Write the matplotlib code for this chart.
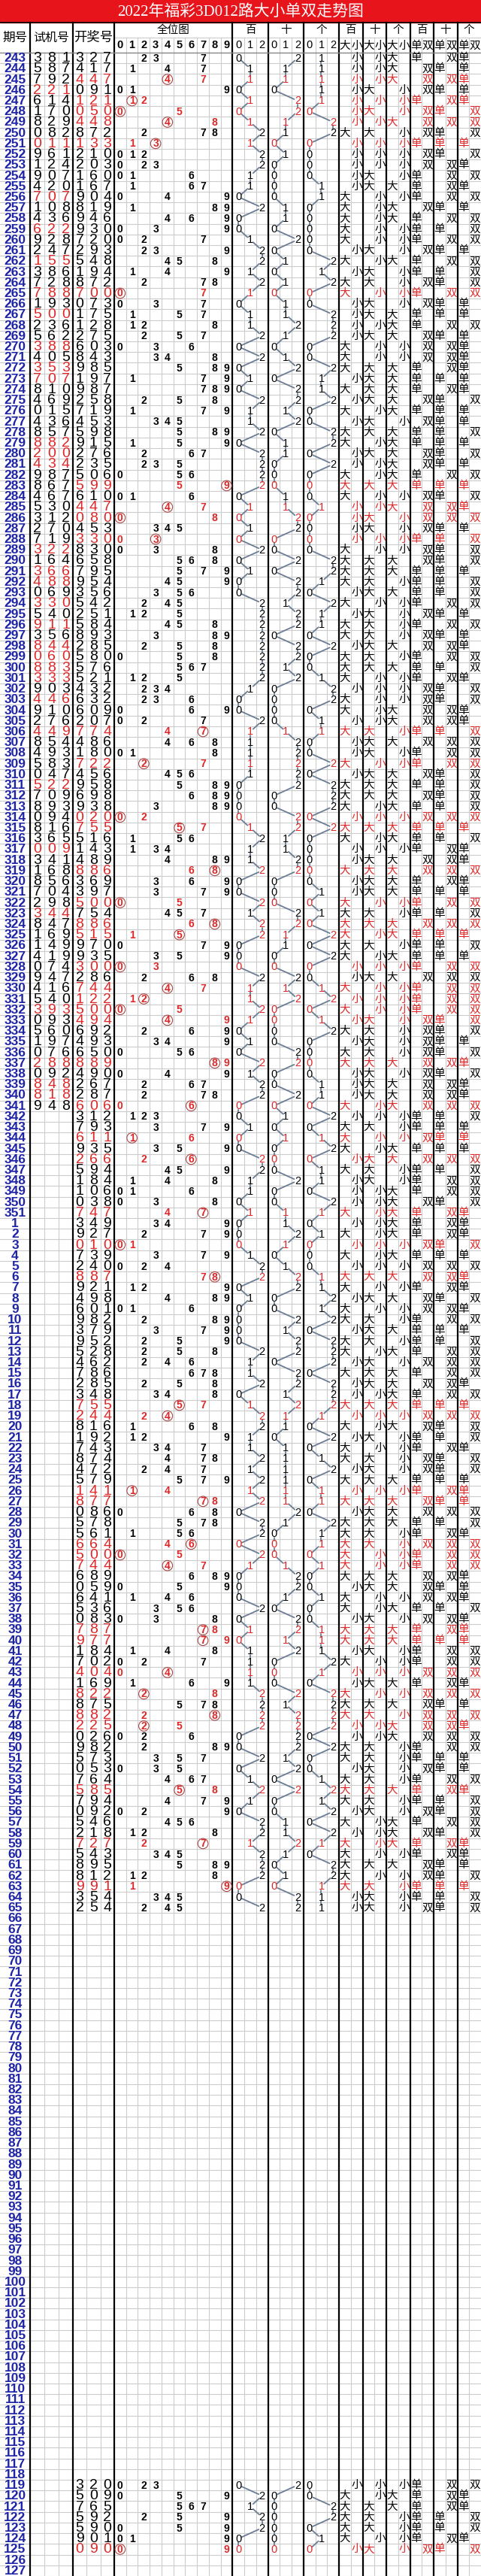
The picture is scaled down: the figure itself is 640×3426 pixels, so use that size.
import matplotlib.pyplot as plt
from matplotlib.patches import Rectangle, Circle

plt.rcParams['font.family'] = ['Liberation Sans', 'Noto Sans CJK SC', 'DejaVu Sans']

periods = [str(p) for p in range(243, 352)] + [str(p) for p in range(1, 128)]

# 试机号 (only 243-341 have one)
test_nums = [
    "381", "587", "792", "221", "614", "170", "829", "082", "011", "961",
    "124", "907", "420", "707", "108", "436", "622", "928", "247", "155",
    "386", "728", "788", "193", "500", "236", "562", "388", "405", "353",
    "707", "810", "469", "015", "436", "857", "882", "200", "434", "987",
    "867", "467", "530", "312", "270", "719", "322", "164", "366", "488",
    "069", "330", "540", "911", "356", "844", "060", "883", "333", "903",
    "446", "910", "276", "449", "854", "493", "583", "047", "522", "709",
    "893", "094", "816", "365", "009", "341", "168", "856", "704", "298",
    "344", "847", "169", "149", "419", "074", "947", "416", "540", "393",
    "093", "560", "197", "076", "288", "092", "848", "818", "948",
]

# 开奖号 243-351, then 1-127
draw_nums = [
    "327", "417", "447", "091", "121", "050", "448", "872", "133", "210",
    "203", "160", "167", "904", "819", "946", "930", "720", "293", "548",
    "194", "872", "700", "073", "175", "128", "275", "603", "843", "985",
    "197", "987", "258", "719", "453", "598", "915", "276", "235", "506",
    "599", "610", "447", "080", "453", "330", "830", "658", "795", "954",
    "356", "542", "251", "584", "893", "285", "580", "576", "521", "432",
    "632", "609", "207", "774", "486", "180", "722", "456", "958", "698",
    "938", "020", "755", "516", "143", "489", "886", "369", "397", "500",
    "754", "886", "515", "970", "935", "300", "286", "744", "122", "500",
    "494", "692", "493", "650", "889", "490", "267", "287", "606",
    "312", "793", "611", "935", "266", "594", "184", "106", "038", "747",
    # 2023 1-
    "349", "927", "010", "739", "240", "887", "921", "498", "601", "982",
    "379", "952", "528", "462", "786", "285", "348", "755", "244", "816",
    "192", "743", "874", "472", "579", "141", "877", "086", "578", "561",
    "664", "500", "744", "689", "059", "641", "536", "083", "787", "977",
    "184", "702", "404", "169", "822", "875", "882", "225", "026", "982",
    "573", "053", "764", "585", "794", "092", "546", "218", "727", "543",
    "895", "812", "991", "354", "254",
] + [""] * 53 + ["320", "509", "765", "592", "590", "901", "090", "", ""]

test_nums = test_nums + [""] * (len(periods) - len(test_nums))

W, H = 640, 3426
top = 70
n = len(periods)
rh = (H - top) / n
x0 = 152
cw = (W - x0) / 31

RED = '#e8141c'
TRED = '#e02626'
GRID = '#cccccc'
BLUE = '#1e24a6'
LINEC = '#6b7d95'
CJK = ['Noto Sans CJK SC', 'DejaVu Sans']

fig = plt.figure(figsize=(6.4, 34.26), dpi=100)
ax = fig.add_axes([0, 0, 1, 1])
ax.set_xlim(0, W)
ax.set_ylim(H, 0)
ax.axis('off')


def cx(k):
    return x0 + (k + 0.5) * cw


def ry(i):
    return top + (i + 0.5) * rh


# title bar
ax.add_patch(Rectangle((0, 0), W, 30, color=RED, zorder=0))
ax.text(W / 2, 15.5, "2022年福彩3D012路大小单双走势图", color='white', fontsize=15,
        ha='center', va='center', family=['Liberation Serif', 'Noto Sans CJK SC'])

# grid
for i in range(n + 1):
    y = top + i * rh
    ax.plot([0, W], [y, y], color=GRID, lw=0.8, zorder=1)
ax.plot([x0, W], [50, 50], color=GRID, lw=0.8, zorder=1)
for xs in [40 + 19, 40 + 38, 97 + 55 / 3, 97 + 110 / 3]:
    ax.plot([xs, xs], [top, H], color=GRID, lw=0.8, zorder=1)
sections = [10, 13, 16, 19, 21, 23, 25, 27, 29]
for k in range(1, 31):
    if k in sections:
        continue
    ax.plot([x0 + k * cw] * 2, [50, H], color=GRID, lw=0.8, zorder=1)
for xs in [40, 97, 152] + [x0 + k * cw for k in sections]:
    ax.plot([xs, xs], [30, H], color='black', lw=1.6, zorder=3)
ax.plot([0, W], [30, 30], color='black', lw=1.2, zorder=3)
ax.plot([0, W], [top, top], color='#888888', lw=1.0, zorder=3)

# header
ax.text(20, 50, "期号", fontsize=12, ha='center', va='center', family=CJK)
ax.text(68.5, 50, "试机号", fontsize=11.5, ha='center', va='center', family=CJK)
ax.text(124.5, 50, "开奖号", fontsize=12.5, ha='center', va='center', family=CJK)
ax.text(x0 + 5 * cw, 40, "全位图", fontsize=10.5, ha='center', va='center', family=CJK)
for d in range(10):
    ax.text(cx(d), 60.5, str(d), fontsize=10.5, fontweight='bold', ha='center', va='center')
pos_names = ["百", "十", "个"]
for j in range(3):
    ax.text(x0 + (10 + 3 * j + 1.5) * cw, 40, pos_names[j], fontsize=10.5, ha='center', va='center', family=CJK)
    for v in range(3):
        ax.text(cx(10 + 3 * j + v), 60.5, str(v), fontsize=10.5, ha='center', va='center')
    ax.text(x0 + (19 + 2 * j + 1) * cw, 40, pos_names[j], fontsize=10.5, ha='center', va='center', family=CJK)
    ax.text(x0 + (25 + 2 * j + 1) * cw, 40, pos_names[j], fontsize=10.5, ha='center', va='center', family=CJK)
    for v, lab in enumerate(["大", "小"]):
        ax.text(cx(19 + 2 * j + v), 60.5, lab, fontsize=10.5, ha='center', va='center', family=CJK)
    for v, lab in enumerate(["单", "双"]):
        ax.text(cx(25 + 2 * j + v), 60.5, lab, fontsize=10.5, ha='center', va='center', family=CJK)

# rows
prev = [None, None, None]
for i in range(n):
    y = ry(i)
    ax.text(20, y + 0.5, periods[i], fontsize=12.5, fontweight='bold', color=BLUE,
            ha='center', va='center')
    t = test_nums[i]
    if t:
        tc = TRED if len(set(t)) < 3 else 'black'
        for j, ch in enumerate(t):
            ax.text(49.5 + 19 * j, y + 0.5, ch, fontsize=14, color=tc, ha='center', va='center')
    s = draw_nums[i]
    if not s:
        prev = [None, None, None]
        continue
    pair = len(set(s)) < 3
    dc = TRED if pair else 'black'
    for j, ch in enumerate(s):
        ax.text(106 + 18.33 * j, y + 0.5, ch, fontsize=14, color=dc, ha='center', va='center')
    digits = [int(c) for c in s]
    for d in sorted(set(digits)):
        ax.text(cx(d), y + 0.5, str(d), fontsize=10, fontweight='bold', color=dc,
                ha='center', va='center', zorder=4)
        if digits.count(d) > 1:
            ax.add_patch(Circle((cx(d), y), 6.8, fill=False, ec='#a84848', lw=0.8, zorder=4))
    for j, d in enumerate(digits):
        v = d % 3
        px = cx(10 + 3 * j + v)
        ax.text(px, y + 0.5, str(v), fontsize=10.5, color=dc, ha='center', va='center', zorder=4)
        if prev[j] is not None:
            qx, qy = prev[j]
            dx, dy = px - qx, y - qy
            L = (dx ** 2 + dy ** 2) ** 0.5
            r = 5.0
            ax.plot([qx + dx * r / L, px - dx * r / L], [qy + dy * r / L, y - dy * r / L],
                    color=LINEC, lw=1.3, zorder=2, solid_capstyle='round')
        prev[j] = (px, y)
        big = 0 if d >= 5 else 1
        ax.text(cx(19 + 2 * j + big), y, "大" if big == 0 else "小", fontsize=10.5, color=dc,
                ha='center', va='center', family=CJK, zorder=4)
        ev = 0 if d % 2 == 1 else 1
        ax.text(cx(25 + 2 * j + ev), y, "单" if ev == 0 else "双", fontsize=10.5, color=dc,
                ha='center', va='center', family=CJK, zorder=4)

fig.savefig("out.png", dpi=100, facecolor='white')
